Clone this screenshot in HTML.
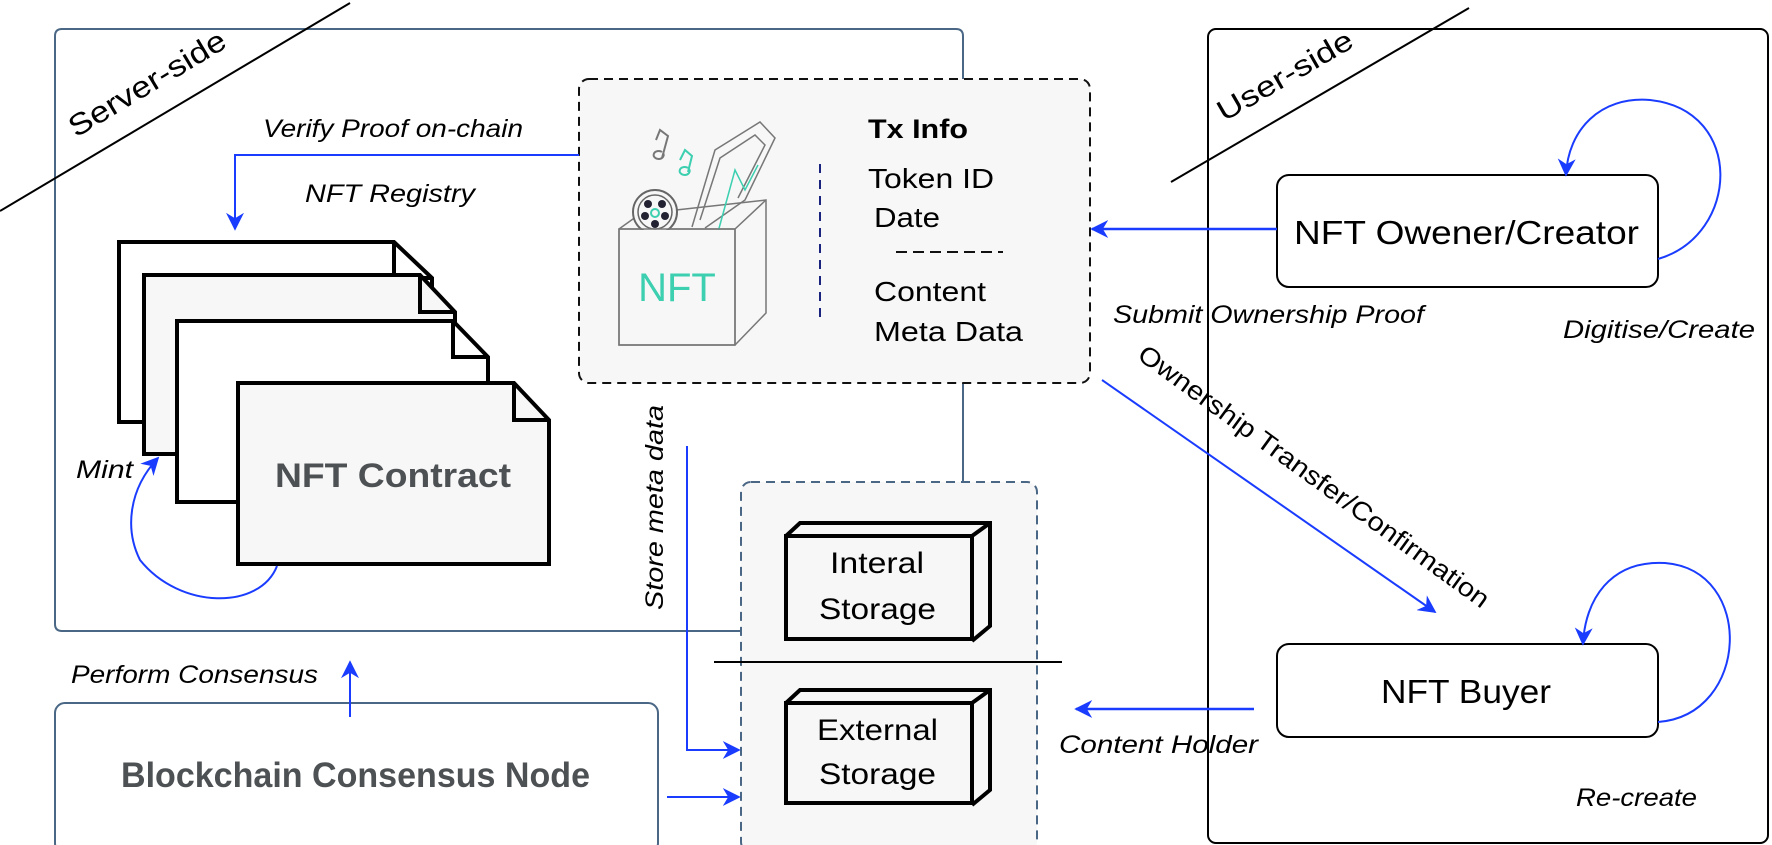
<!DOCTYPE html>
<html><head><meta charset="utf-8"><style>
html,body{margin:0;padding:0;background:#fff;}
svg{display:block;font-family:"Liberation Sans",sans-serif;}
</style></head><body>
<svg width="1772" height="845" viewBox="0 0 1772 845" xmlns="http://www.w3.org/2000/svg">
<defs>
<marker id="b" viewBox="0 0 10 10" refX="9" refY="5" markerWidth="18" markerHeight="18" orient="auto" markerUnits="userSpaceOnUse"><path d="M0,0 L10,5 L0,10 L3,5 z" fill="#1a3cff"/></marker>
</defs>
<!-- Server box -->
<path d="M740,631 L62,631 Q55,631 55,624 L55,36 Q55,29 62,29 L956,29 Q963,29 963,36 L963,79" fill="none" stroke="#4a6785" stroke-width="2"/>
<line x1="963" y1="383" x2="963" y2="482" stroke="#4a6785" stroke-width="2"/>
<line x1="0" y1="211" x2="350" y2="3" stroke="#000" stroke-width="2"/>
<text x="76" y="138" font-size="30" transform="rotate(-31 76 138)" textLength="178" lengthAdjust="spacingAndGlyphs">Server-side</text>
<!-- User box -->
<rect x="1208" y="29" width="560" height="814" rx="8" fill="none" stroke="#000" stroke-width="2"/>
<line x1="1171" y1="182" x2="1469" y2="8" stroke="#000" stroke-width="2"/>
<text x="1224" y="122" font-size="29" transform="rotate(-30 1224 122)" textLength="152" lengthAdjust="spacingAndGlyphs">User-side</text>
<!-- Tx dashed box -->
<rect x="579" y="79" width="511" height="304" rx="10" fill="#f7f7f7" stroke="#111" stroke-width="2" stroke-dasharray="9,6"/>
<g fill="none" stroke="#777" stroke-width="1.5">
<path d="M619,229 L640,214 L766,200 L766,313 L735,345 L619,345 Z"/>
<path d="M619,229 L735,229 L766,200 M735,229 L735,345"/>
<path d="M692,227 L715,150 L760,122 L775,138 L745,200 L705,228" />
<path d="M700,220 L720,158 L755,135 L765,145 L738,198"/>
</g>
<circle cx="655" cy="212" r="22" fill="#f7f7f7" stroke="#666" stroke-width="2"/>
<circle cx="655" cy="212" r="17" fill="none" stroke="#666" stroke-width="1.5"/>
<circle cx="648" cy="204" r="4" fill="#223"/><circle cx="662" cy="204" r="4" fill="#223"/><circle cx="645" cy="216" r="4" fill="#223"/><circle cx="665" cy="216" r="4" fill="#223"/><circle cx="655" cy="224" r="4" fill="#223"/><circle cx="655" cy="213" r="4" fill="none" stroke="#3ccfb0" stroke-width="2"/>
<path d="M656,140 L660,130 L668,136 L662,158 M662,152 a5,4 0 1,0 1,1" fill="none" stroke="#777" stroke-width="2"/>
<path d="M680,160 L685,150 L692,156 L688,172 M688,168 a5,4 0 1,0 1,1" fill="none" stroke="#3ccfb0" stroke-width="2"/>
<path d="M718,232 L735,170 L745,190 L758,165" fill="none" stroke="#3ccfb0" stroke-width="1.5"/>
<rect x="620" y="230" width="114" height="114" fill="#f7f7f7"/>
<path d="M619,229 L735,229 L735,345 L619,345 Z" fill="none" stroke="#777" stroke-width="1.5"/>
<text x="677" y="301" font-size="40" fill="#3ccfb0" text-anchor="middle">NFT</text>
<line x1="820" y1="164" x2="820" y2="323" stroke="#1a237e" stroke-width="2" stroke-dasharray="9,7"/>
<text x="868" y="138" font-size="27" font-weight="bold" textLength="100" lengthAdjust="spacingAndGlyphs">Tx Info</text>
<text x="868" y="188" font-size="28" textLength="126" lengthAdjust="spacingAndGlyphs">Token ID</text>
<text x="874" y="227" font-size="28" textLength="66" lengthAdjust="spacingAndGlyphs">Date</text>
<line x1="896" y1="252" x2="1003" y2="252" stroke="#111" stroke-width="2" stroke-dasharray="11,6"/>
<text x="874" y="301" font-size="28" textLength="112" lengthAdjust="spacingAndGlyphs">Content</text>
<text x="874" y="341" font-size="28" textLength="149" lengthAdjust="spacingAndGlyphs">Meta Data</text>
<path d="M579,155 L235,155 L235,229" fill="none" stroke="#1a3cff" stroke-width="2" marker-end="url(#b)"/>
<text x="263" y="137" font-size="25" font-style="italic" textLength="260" lengthAdjust="spacingAndGlyphs">Verify Proof on-chain</text>
<text x="305" y="202" font-size="25" font-style="italic" textLength="170" lengthAdjust="spacingAndGlyphs">NFT  Registry</text>
<g stroke="#000" stroke-width="4" stroke-linejoin="miter">
<path d="M119,242 L394,242 L432,278 L432,422 L119,422 Z" fill="#fff"/>
<path d="M394,242 L394,278 L432,278" fill="none"/>
<path d="M144,275 L420,275 L455,312 L455,454 L144,454 Z" fill="#f7f7f7"/>
<path d="M420,275 L420,312 L455,312" fill="none"/>
<path d="M177,321 L453,321 L488,357 L488,502 L177,502 Z" fill="#fff"/>
<path d="M453,321 L453,357 L488,357" fill="none"/>
<path d="M238,383 L514,383 L549,420 L549,564 L238,564 Z" fill="#f7f7f7"/>
<path d="M514,383 L514,420 L549,420" fill="none"/>
</g>
<text x="275" y="487" font-size="34" font-weight="bold" fill="#4d5153" textLength="236" lengthAdjust="spacingAndGlyphs">NFT  Contract</text>
<text x="76" y="478" font-size="25" font-style="italic" textLength="57" lengthAdjust="spacingAndGlyphs">Mint</text>
<path d="M277,566 C260,610 180,610 140,560 C125,530 128,490 158,458" fill="none" stroke="#1a3cff" stroke-width="2" marker-end="url(#b)"/>
<rect x="1277" y="175" width="381" height="112" rx="12" fill="#fff" stroke="#000" stroke-width="2"/>
<text x="1294" y="244" font-size="33" textLength="345" lengthAdjust="spacingAndGlyphs">NFT Owener/Creator</text>
<line x1="1277" y1="229" x2="1092" y2="229" stroke="#1a3cff" stroke-width="2.5" marker-end="url(#b)"/>
<path d="M1658,259 C1740,235 1745,110 1650,100 C1600,96 1568,130 1566,175" fill="none" stroke="#1a3cff" stroke-width="2" marker-end="url(#b)"/>
<text x="1113" y="323" font-size="25" font-style="italic" textLength="311" lengthAdjust="spacingAndGlyphs">Submit Ownership Proof</text>
<text x="1563" y="338" font-size="25" font-style="italic" textLength="192" lengthAdjust="spacingAndGlyphs">Digitise/Create</text>
<line x1="1102" y1="380" x2="1435" y2="612" stroke="#1a3cff" stroke-width="2" marker-end="url(#b)"/>
<text x="1136" y="358" font-size="26" transform="rotate(36 1136 358)" textLength="427" lengthAdjust="spacingAndGlyphs">Ownership Transfer/Confirmation</text>
<rect x="1277" y="644" width="381" height="93" rx="12" fill="#fff" stroke="#000" stroke-width="2"/>
<text x="1381" y="703" font-size="33" textLength="170" lengthAdjust="spacingAndGlyphs">NFT Buyer</text>
<path d="M1658,722 C1750,715 1755,570 1665,563 C1610,560 1585,600 1583,644" fill="none" stroke="#1a3cff" stroke-width="2" marker-end="url(#b)"/>
<line x1="1254" y1="709" x2="1076" y2="709" stroke="#1a3cff" stroke-width="2.5" marker-end="url(#b)"/>
<text x="1059" y="753" font-size="25" font-style="italic" textLength="199" lengthAdjust="spacingAndGlyphs">Content Holder</text>
<text x="1576" y="806" font-size="25" font-style="italic" textLength="121" lengthAdjust="spacingAndGlyphs">Re-create</text>
<rect x="741" y="482" width="296" height="370" rx="10" fill="#f7f7f7" stroke="#4a6785" stroke-width="2" stroke-dasharray="9,6"/>
<line x1="714" y1="662" x2="1062" y2="662" stroke="#000" stroke-width="2"/>
<g stroke="#000" stroke-width="4" stroke-linejoin="miter">
<path d="M786,536 L800,523 L990,523 L990,626 L972,641" fill="#f7f7f7"/>
<rect x="786" y="536" width="186" height="103" fill="#f7f7f7"/>
<line x1="972" y1="536" x2="990" y2="523"/>
<path d="M786,703 L800,690 L990,690 L990,790 L972,805" fill="#f7f7f7"/>
<rect x="786" y="703" width="186" height="100" fill="#f7f7f7"/>
<line x1="972" y1="703" x2="990" y2="690"/>
</g>
<text x="830" y="573" font-size="30" textLength="94" lengthAdjust="spacingAndGlyphs">Interal</text>
<text x="819" y="619" font-size="30" textLength="117" lengthAdjust="spacingAndGlyphs">Storage</text>
<text x="817" y="740" font-size="30" textLength="121" lengthAdjust="spacingAndGlyphs">External</text>
<text x="819" y="784" font-size="30" textLength="117" lengthAdjust="spacingAndGlyphs">Storage</text>
<path d="M687,446 L687,750 L739,750" fill="none" stroke="#1a3cff" stroke-width="2" marker-end="url(#b)"/>
<text x="663" y="610" font-size="25" font-style="italic" transform="rotate(-90 663 610)" textLength="205" lengthAdjust="spacingAndGlyphs">Store meta data</text>
<rect x="55" y="703" width="603" height="150" rx="10" fill="#fff" stroke="#4a6785" stroke-width="2"/>
<text x="121" y="787" font-size="35" font-weight="bold" fill="#4d5153" textLength="469" lengthAdjust="spacingAndGlyphs">Blockchain Consensus Node</text>
<line x1="350" y1="717" x2="350" y2="662" stroke="#1a3cff" stroke-width="2" marker-end="url(#b)"/>
<text x="71" y="683" font-size="25" font-style="italic" textLength="247" lengthAdjust="spacingAndGlyphs">Perform Consensus</text>
<line x1="667" y1="797" x2="739" y2="797" stroke="#1a3cff" stroke-width="2" marker-end="url(#b)"/>
</svg>
</body></html>
